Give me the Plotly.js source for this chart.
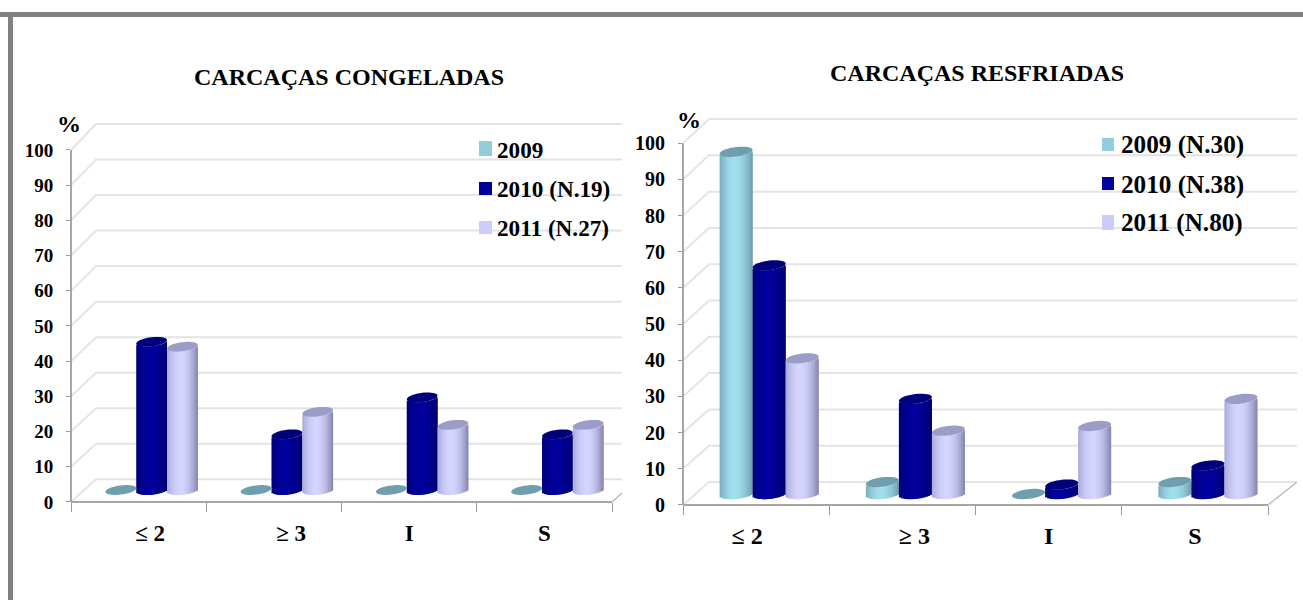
<!DOCTYPE html>
<html>
<head>
<meta charset="utf-8">
<script src="https://cdn.plot.ly/plotly-3.0.1.min.js"></script>
<style>html,body{margin:0;padding:0;background:#fff}#chart{width:1303px;height:600px}</style>
</head>
<body>
<div id="chart"></div>
<script>
// Shared categories and y ticks
const categories = ['≤ 2', '≥ 3', 'I', 'S'];
const yTicks = [0, 10, 20, 30, 40, 50, 60, 70, 80, 90, 100];

// Frozen carcasses (%)
const frozen2009 = [0, 0, 0, 0];
const frozen2010 = [42.1, 15.8, 26.3, 15.8];
const frozen2011 = [40.7, 22.2, 18.5, 18.5];
const frozenLegend = ['2009', '2010 (N.19)', '2011 (N.27)'];
const frozenTitle = 'CARCAÇAS CONGELADAS';

// Chilled carcasses (%)
const chilled2009 = [94.6, 3.3, 0, 3.3];
const chilled2010 = [63.2, 26.3, 2.6, 7.9];
const chilled2011 = [37.5, 17.5, 18.8, 26.3];
const chilledLegend = ['2009 (N.30)', '2010 (N.38)', '2011 (N.80)'];
const chilledTitle = 'CARCAÇAS RESFRIADAS';

// Cylinder shading per series: edge, centre and cap colours
const seriesStyles = [
  {edgeL: [100, 146, 162], edgeR: [110, 155, 170], mid: [160, 222, 238], cap: '#6f9fae', swatch: '#93cddd'},
  {edgeL: [0, 0, 104], edgeR: [0, 0, 112], mid: [0, 0, 156], cap: '#00007c', swatch: '#000099'},
  {edgeL: [150, 150, 200], edgeR: [130, 130, 172], mid: [212, 212, 255], cap: '#9c9cc8', swatch: '#ccccff'}
];

const W = 1303, H = 600;
const FONT = 'Liberation Serif';
const SLICES = 18;

const traces = [], shapes = [], annotations = [];
const layout = {
  width: W, height: H, margin: {l: 0, r: 0, t: 0, b: 0},
  paper_bgcolor: '#fff', plot_bgcolor: 'rgba(0,0,0,0)',
  showlegend: false, barmode: 'overlay', hovermode: false
};

const px = x => x / W;
const py = y => (H - y) / H;

// Annotations carry a small inner padding, taken off so x is the glyph edge
function text(str, x, y, size) {
  annotations.push({
    text: str, xref: 'paper', yref: 'paper', x: px(x - 2), y: py(y),
    xanchor: 'left', yanchor: 'middle', showarrow: false,
    font: {family: FONT, size: size, color: '#000', weight: 'bold'}
  });
}

function mixColor(a, b, t) {
  const c = a.map((v, i) => Math.round(v + (b[i] - v) * t));
  return 'rgb(' + c.join(',') + ')';
}

function drawChart(g) {
  const xName = g.id === 1 ? 'x' : 'x2', yName = g.id === 1 ? 'y' : 'y2';
  const catPx = (g.xEnd - g.xLeft) / categories.length;
  const unitPx = (g.yZero - g.yHundred) / 100;
  const lastCat = categories.length - 0.5;
  const xRange = [-0.5, lastCat + (g.clipRight - g.xEnd) / catPx];
  const wallY = v => g.wallOffset / unitPx + v * (1 + g.wallGrow);
  const wallStart = -0.5 + g.wallDx / catPx;
  const yMax = wallY(100) + 1;
  const plotTop = g.yZero - yMax * unitPx;

  layout[g.id === 1 ? 'xaxis' : 'xaxis2'] = {
    type: 'category', categoryorder: 'array', categoryarray: categories,
    domain: [px(g.xLeft), px(g.clipRight)], range: xRange, anchor: yName,
    showgrid: false, zeroline: false, showline: false, tickson: 'boundaries',
    ticks: 'outside', ticklen: 9, tickwidth: 1, tickcolor: '#9a9a9a',
    tickmode: 'array', tickvals: categories,
    ticktext: categories.map((c, i) => '\u00a0'.repeat(g.padLead[i]) + c + '\u00a0'.repeat(g.padTrail[i])),
    ticklabelstandoff: g.xStandoff,
    tickfont: {family: FONT, size: g.xFont, color: '#000', weight: 'bold'},
    fixedrange: true
  };
  layout[g.id === 1 ? 'yaxis' : 'yaxis2'] = {
    domain: [py(g.yZero), py(plotTop)], range: [0, yMax], anchor: xName,
    showgrid: false, zeroline: false, showline: false,
    ticks: 'outside', ticklen: 4, tickwidth: 1, tickcolor: '#9a9a9a',
    tickmode: 'array', tickvals: yTicks, ticklabelstandoff: 9,
    tickfont: {family: FONT, size: g.yFont, color: '#000', weight: 'bold'},
    fixedrange: true
  };

  // Back wall with its receding gridlines
  yTicks.forEach(v => {
    shapes.push({
      type: 'path', xref: xName, yref: yName, layer: 'below',
      path: 'M-0.5,' + v + 'L' + wallStart + ',' + wallY(v) + 'L' + xRange[1] + ',' + wallY(v),
      line: {color: '#e4e4e4', width: 2}
    });
  });
  // Floor edge on the right-hand side
  shapes.push({
    type: 'line', xref: xName, yref: yName, layer: 'below',
    x0: lastCat, y0: 0, x1: lastCat + g.sideDx / catPx, y1: wallY(0),
    line: {color: '#bdbdbd', width: 1.5}
  });
  // Axis lines: the wall above 100 and the floor past the last category stay clear
  shapes.push({
    type: 'line', xref: 'paper', yref: yName, x0: px(g.xLeft), x1: px(g.xLeft), y0: 0, y1: 100,
    line: {color: '#a6a6a6', width: 2}
  });
  shapes.push({
    type: 'line', xref: xName, yref: 'paper', x0: -0.5, x1: lastCat, y0: py(g.yZero), y1: py(g.yZero),
    line: {color: '#a6a6a6', width: 2}
  });

  // Cylinders: each series is a fan of narrow overlapping bars shaded across its width
  const barW = g.barPx / catPx, shift = g.groupShiftPx / catPx;
  const rimA = g.capPx / unitPx, tilt = g.tiltPx / unitPx, floor = g.floorPx / unitPx;

  g.series.forEach((values, s) => {
    const st = seriesStyles[s];
    const left = shift + (s - 1.5) * barW;
    for (let k = 0; k < SLICES; k++) {
      const u = (k + 0.5) / SLICES * 2 - 1;
      const shade = 1 - Math.pow(Math.abs(u + 0.1) / 1.1, 1.9);
      const edge = u < 0 ? st.edgeL : st.edgeR;
      const base = floor + tilt * u - rimA * Math.sqrt(1 - u * u);
      traces.push({
        type: 'bar', xaxis: xName, yaxis: yName, x: categories,
        y: values,
        base: values.map(() => base),
        offset: left + k / SLICES * barW,
        width: barW * Math.min(2, SLICES - k) / SLICES,
        marker: {color: mixColor(edge, st.mid, Math.max(0, Math.min(1, shade))), line: {width: 0}},
        hoverinfo: 'skip', showlegend: false
      });
    }
    // Elliptical cap on top of each cylinder, or a flat disc where the value is zero
    values.forEach((v, i) => {
      const cx = i + left + barW / 2;
      let path = '';
      for (let a = 0; a < 40; a++) {
        const th = a / 40 * 2 * Math.PI;
        const u = Math.cos(th);
        const xp = cx + u * barW / 2;
        const yp = floor + v + tilt * u + rimA * Math.sin(th);
        path += (a ? 'L' : 'M') + xp + ',' + yp;
      }
      shapes.push({
        type: 'path', xref: xName, yref: yName, layer: 'above', path: path + 'Z',
        fillcolor: st.cap, line: {width: 0}
      });
    });
  });

  // Title, unit mark and legend
  text(g.title, g.titleX, g.titleY, g.titleFont);
  text('%', g.pctX, g.pctY, g.pctFont);
  g.legend.forEach((label, s) => {
    const [y0, y1] = g.swatchY[s];
    shapes.push({
      type: 'rect', xref: 'paper', yref: 'paper', x0: px(g.swatchX[0]), x1: px(g.swatchX[1]),
      y0: py(y0), y1: py(y1), fillcolor: seriesStyles[s].swatch, line: {width: 0}
    });
    text(label, g.legendTextX, g.legendTextY[s], g.legendFont);
  });
}

drawChart({
  id: 1, series: [frozen2009, frozen2010, frozen2011], legend: frozenLegend, title: frozenTitle,
  xLeft: 71, xEnd: 612, clipRight: 622, yZero: 502, yHundred: 150,
  wallOffset: 22.7, wallGrow: 0.0095, wallDx: 25, sideDx: 25,
  barPx: 30.8, groupShiftPx: 13, floorPx: 12, capPx: 4.6, tiltPx: 1.8,
  xFont: 23, yFont: 19, xStandoff: 15, padLead: [4, 6, 0, 0], padTrail: [0, 0, 0, 0],
  titleX: 194, titleY: 77, titleFont: 24, pctX: 57, pctY: 124, pctFont: 24,
  swatchX: [479, 492], swatchY: [[141, 156], [182, 195], [221, 234]],
  legendTextX: 497, legendTextY: [150, 189, 228], legendFont: 23.2
});

drawChart({
  id: 2, series: [chilled2009, chilled2010, chilled2011], legend: chilledLegend, title: chilledTitle,
  xLeft: 683, xEnd: 1268, clipRight: 1297, yZero: 505, yHundred: 143.3,
  wallOffset: 23, wallGrow: 0.0035, wallDx: 26, sideDx: 29,
  barPx: 33, groupShiftPx: 13, floorPx: 11, capPx: 4.8, tiltPx: 1.9,
  xFont: 24, yFont: 20, xStandoff: 14, padLead: [0, 4, 0, 0], padTrail: [3, 0, 0, 0],
  titleX: 830, titleY: 73, titleFont: 24, pctX: 677, pctY: 120, pctFont: 24,
  swatchX: [1102, 1114], swatchY: [[138, 151], [177, 190], [215, 230]],
  legendTextX: 1121, legendTextY: [145, 185, 223], legendFont: 25.2
});

// Grey page frame along the top and left edges
shapes.push({type: 'rect', xref: 'paper', yref: 'paper', x0: 0, x1: 1, y0: py(17), y1: py(12), fillcolor: '#808080', line: {width: 0}});
shapes.push({type: 'rect', xref: 'paper', yref: 'paper', x0: px(8), x1: px(13), y0: 0, y1: py(12), fillcolor: '#808080', line: {width: 0}});

layout.shapes = shapes;
layout.annotations = annotations;
Plotly.newPlot('chart', traces, layout, {displayModeBar: false, staticPlot: true});
</script>
</body>
</html>
